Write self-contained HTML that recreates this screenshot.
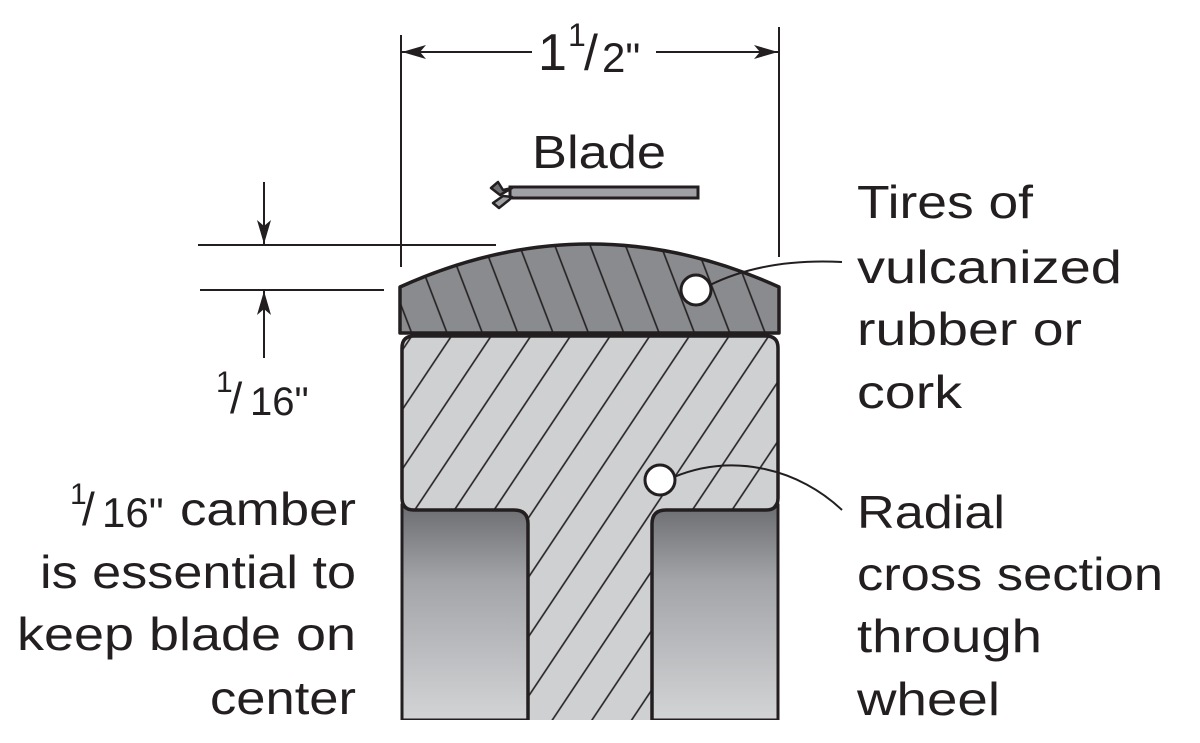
<!DOCTYPE html>
<html><head><meta charset="utf-8"><style>
html,body{margin:0;padding:0;background:#fff;}
svg{display:block;}
text{font-family:"Liberation Sans",sans-serif;fill:#231f20;}
</style></head><body>
<svg width="1200" height="743" viewBox="0 0 1200 743" xmlns="http://www.w3.org/2000/svg">
<defs>
<pattern id="hw" patternUnits="userSpaceOnUse" width="33" height="20" patternTransform="rotate(33.7)">
<line x1="1" y1="0" x2="1" y2="20" stroke="#231f20" stroke-width="1.6"/>
</pattern>
<pattern id="ht" patternUnits="userSpaceOnUse" width="33" height="20" patternTransform="rotate(-21)">
<line x1="1" y1="0" x2="1" y2="20" stroke="#231f20" stroke-width="1.6"/>
</pattern>
<linearGradient id="g" x1="0" y1="0" x2="0" y2="1">
<stop offset="0" stop-color="#6c6d70"/><stop offset="0.35" stop-color="#a3a4a7"/><stop offset="1" stop-color="#d3d4d6"/>
</linearGradient>
<marker id="ah" viewBox="0 0 24 14" refX="24" refY="7" markerWidth="24" markerHeight="14" markerUnits="userSpaceOnUse" orient="auto">
<path d="M0,0 L24,7 L0,14 L6,7 Z" fill="#231f20"/>
</marker>
</defs>

<!-- dimension lines -->
<line x1="401" y1="35" x2="401" y2="267" stroke="#231f20" stroke-width="2"/>
<line x1="779" y1="27" x2="779" y2="257" stroke="#231f20" stroke-width="2"/>
<line x1="532" y1="52" x2="402" y2="52" stroke="#231f20" stroke-width="2" marker-end="url(#ah)"/>
<line x1="656" y1="52" x2="778" y2="52" stroke="#231f20" stroke-width="2" marker-end="url(#ah)"/>
<text x="538" y="70" font-size="52">1</text>
<text x="568" y="46" font-size="32">1</text>
<text x="584" y="70" font-size="50">/</text>
<text x="602" y="72" font-size="42">2"</text>

<text x="532" y="168" font-size="46" textLength="134" lengthAdjust="spacingAndGlyphs">Blade</text>

<!-- camber -->
<line x1="198" y1="245" x2="496" y2="245" stroke="#231f20" stroke-width="2"/>
<line x1="200" y1="290" x2="384" y2="290" stroke="#231f20" stroke-width="2"/>
<line x1="264" y1="182" x2="264" y2="244" stroke="#231f20" stroke-width="2" marker-end="url(#ah)"/>
<line x1="264" y1="358" x2="264" y2="291" stroke="#231f20" stroke-width="2" marker-end="url(#ah)"/>
<text x="216" y="392" font-size="30">1</text>
<text x="230" y="413" font-size="44">/</text>
<text x="250" y="415" font-size="40">16"</text>

<!-- blade -->
<rect x="510" y="187" width="188" height="11" fill="#a0a1a4" stroke="#231f20" stroke-width="3"/>
<path d="M512,188 L503,190 L498,182 L491,188 L500,195 Z" fill="#6e6f72" stroke="#231f20" stroke-width="2.5" stroke-linejoin="round"/>
<path d="M512,197 L503,196 L493,203 L499,208 L509,200 Z" fill="#a0a1a4" stroke="#231f20" stroke-width="2.5" stroke-linejoin="round"/>

<!-- lower blocks -->
<rect x="402" y="505" width="126" height="215" fill="url(#g)" stroke="#231f20" stroke-width="3"/>
<rect x="652" y="505" width="126" height="215" fill="url(#g)" stroke="#231f20" stroke-width="3"/>
<rect x="398" y="720" width="384" height="23" fill="#fff"/>

<!-- wheel -->
<path d="M414,336 H766 Q778,336 778,348 V498 Q778,510 766,510 H666 Q652,510 652,524 V720 H528 V524 Q528,510 514,510 H414 Q402,510 402,498 V348 Q402,336 414,336 Z" fill="#cfd0d2"/>
<path d="M414,336 H766 Q778,336 778,348 V498 Q778,510 766,510 H666 Q652,510 652,524 V720 H528 V524 Q528,510 514,510 H414 Q402,510 402,498 V348 Q402,336 414,336 Z" fill="url(#hw)"/>
<path d="M528,720 V524 Q528,510 514,510 H414 Q402,510 402,498 V348 Q402,336 414,336 H766 Q778,336 778,348 V498 Q778,510 766,510 H666 Q652,510 652,524 V720" fill="none" stroke="#231f20" stroke-width="3.5"/>

<!-- tire -->
<path d="M400,287 Q590,201 779,287 L779,333 L400,333 Z" fill="#8a8b8e"/>
<path d="M400,287 Q590,201 779,287 L779,333 L400,333 Z" fill="url(#ht)"/>
<path d="M400,287 Q590,201 779,287 L779,333 L400,333 Z" fill="none" stroke="#231f20" stroke-width="3.5" stroke-linejoin="round"/>

<!-- leaders -->
<path d="M710,285 Q765,258 842,262" fill="none" stroke="#231f20" stroke-width="2"/>
<circle cx="696" cy="290" r="15" fill="#fff" stroke="#231f20" stroke-width="3"/>
<path d="M674,477 C735,452 800,470 842,510" fill="none" stroke="#231f20" stroke-width="2"/>
<circle cx="660" cy="480" r="15" fill="#fff" stroke="#231f20" stroke-width="3"/>

<!-- right text -->
<g font-size="46">
<text x="857" y="218" textLength="176" lengthAdjust="spacingAndGlyphs">Tires of</text>
<text x="857" y="283" textLength="265" lengthAdjust="spacingAndGlyphs">vulcanized</text>
<text x="857" y="345" textLength="225" lengthAdjust="spacingAndGlyphs">rubber or</text>
<text x="857" y="408" textLength="105" lengthAdjust="spacingAndGlyphs">cork</text>
<text x="857" y="528" textLength="148" lengthAdjust="spacingAndGlyphs">Radial</text>
<text x="857" y="590" textLength="306" lengthAdjust="spacingAndGlyphs">cross section</text>
<text x="857" y="652" textLength="185" lengthAdjust="spacingAndGlyphs">through</text>
<text x="857" y="715" textLength="143" lengthAdjust="spacingAndGlyphs">wheel</text>
</g>

<!-- left text -->
<g font-size="46">
<text x="70" y="504" font-size="30">1</text>
<text x="82" y="525">/</text>
<text x="102" y="527" font-size="42">16"</text>
<text x="180" y="525" textLength="176" lengthAdjust="spacingAndGlyphs">camber</text>
<text x="40" y="588" textLength="316" lengthAdjust="spacingAndGlyphs">is essential to</text>
<text x="17" y="650" textLength="339" lengthAdjust="spacingAndGlyphs">keep blade on</text>
<text x="210" y="714" textLength="146" lengthAdjust="spacingAndGlyphs">center</text>
</g>
</svg>
</body></html>
